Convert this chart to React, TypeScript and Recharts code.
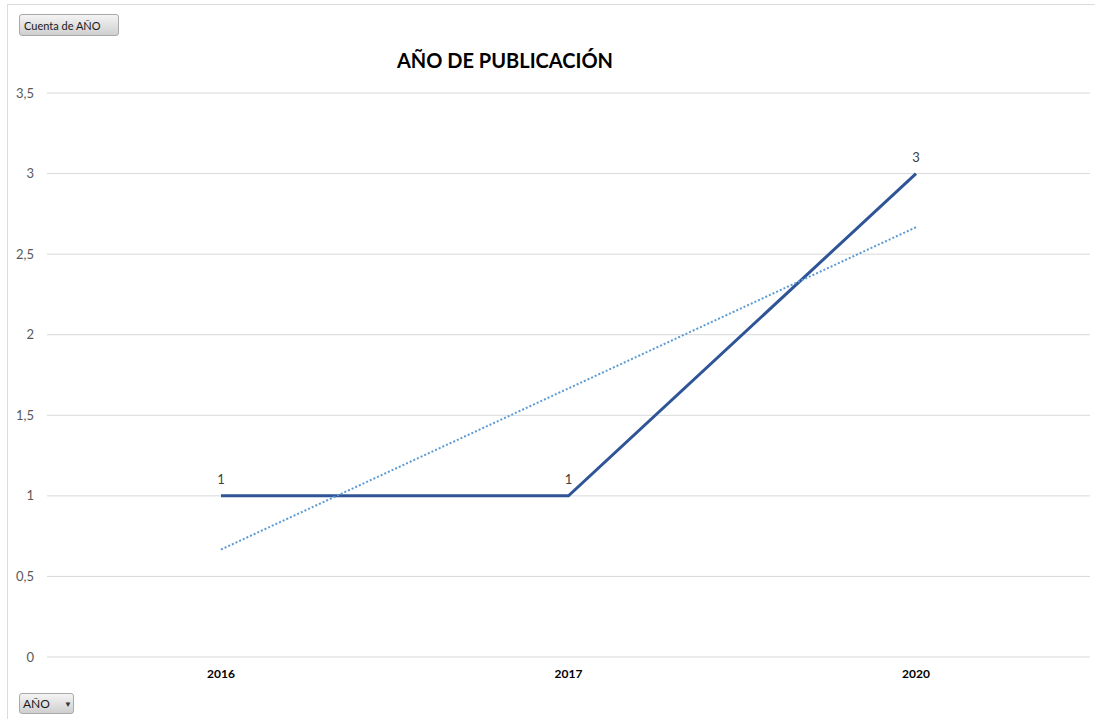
import { LineChart, Line, XAxis, YAxis, CartesianGrid, LabelList } from "recharts";

const years = ["2016", "2017", "2020"];
const counts = [1, 1, 3];
const trendValues = [0.667, 1.667, 2.667];
const yTicks = [0, 0.5, 1, 1.5, 2, 2.5, 3, 3.5];

const chartData = years.map((year, i) => ({
  year,
  count: counts[i],
  trend: trendValues[i],
}));

const font = "Lato, 'Open Sans', sans-serif";

const buttonStyle: React.CSSProperties = {
  position: "absolute",
  background: "linear-gradient(#f4f4f4, #cfcfcf)",
  border: "1px solid #a9a9a9",
  borderRadius: 3,
  fontSize: 11,
  fontFamily: font,
  color: "#1a1a1a",
  boxSizing: "border-box",
  display: "flex",
  alignItems: "center",
};

export default function App() {
  return (
    <div style={{ position: "absolute", left: 0, top: 0, width: 1095, height: 719, background: "#fff", fontFamily: font }}>
      <div style={{ position: "absolute", left: 7, top: 4, right: 0, bottom: 0, borderTop: "1px solid #dcdcdc", borderLeft: "1px solid #dcdcdc" }} />
      <LineChart
        width={1095}
        height={719}
        data={chartData}
        margin={{ top: 93, right: 5, left: 0, bottom: 0 }}
      >
        <CartesianGrid vertical={false} stroke="#d9d9d9" />
        <XAxis
          dataKey="year"
          height={62}
          padding={{ left: 174, right: 174 }}
          axisLine={false}
          tickLine={false}
          tickMargin={6}
          tick={{ fill: "#000", fontSize: 12, fontWeight: 700, fontFamily: font }}
        />
        <YAxis
          width={47}
          domain={[0, 3.5]}
          ticks={yTicks}
          axisLine={false}
          tickLine={false}
          tickMargin={7}
          tickFormatter={(v: number) => String(v).replace(".", ",")}
          tick={{ fill: "#595959", fontSize: 13, fontFamily: font }}
        />
        <Line
          dataKey="count"
          type="linear"
          stroke="#2F5597"
          strokeWidth={3}
          dot={false}
          activeDot={false}
          isAnimationActive={false}
        >
          <LabelList dataKey="count" position="top" offset={12} fill="#404040" fontSize={13} fontFamily={font} />
        </Line>
        <Line
          dataKey="trend"
          type="linear"
          stroke="#5B9BD5"
          strokeWidth={2}
          strokeDasharray="2 2"
          dot={false}
          activeDot={false}
          isAnimationActive={false}
        />
      </LineChart>
      <div
        style={{
          position: "absolute",
          left: 0,
          width: 1010,
          top: 48,
          textAlign: "center",
          fontSize: 20,
          fontWeight: 700,
          color: "#000",
        }}
      >
        AÑO DE PUBLICACIÓN
      </div>
      <div style={{ ...buttonStyle, left: 19, top: 14, width: 100, height: 22, paddingLeft: 4 }}>Cuenta de AÑO</div>
      <div style={{ ...buttonStyle, left: 19, top: 693, width: 55, height: 21, paddingLeft: 3, fontSize: 12 }}>
        AÑO
        <span style={{ marginLeft: 14, fontSize: 8, color: "#333" }}>▼</span>
      </div>
    </div>
  );
}
